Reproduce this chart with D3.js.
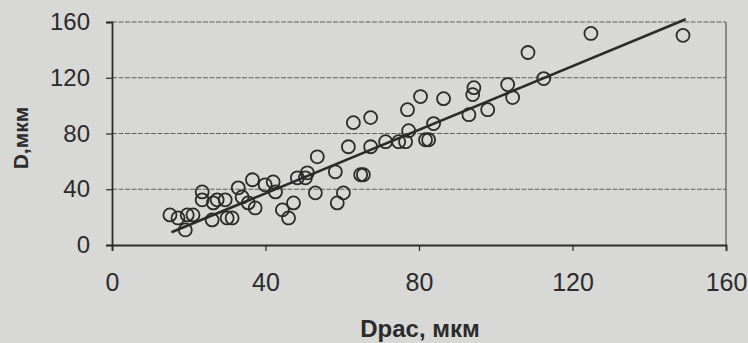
<!DOCTYPE html>
<html>
<head>
<meta charset="utf-8">
<script src="https://cdn.jsdelivr.net/npm/d3@7"></script>
<style>
  html, body { margin: 0; padding: 0; background: #d8d8d6; }
  svg { display: block; font-family: "Liberation Sans", Arial, sans-serif; }
</style>
</head>
<body>
<div id="chart"></div>
<script>
// measured points: Dpac (x) and D (y), µm
const dRas = [15.1, 17.2, 19.1, 19.6, 21.1, 23.5, 23.5, 26.1, 26.4, 27.4, 29.5, 30.0, 31.3, 32.9, 33.9,
  35.5, 36.6, 37.3, 39.9, 42.0, 42.6, 44.4, 46.0, 47.3, 48.3, 50.9, 50.4, 53.0, 53.5, 58.2,
  58.7, 60.3, 61.6, 62.9, 64.8, 65.5, 67.4, 67.4, 71.3, 74.7, 76.5, 77.0, 77.3, 80.4, 81.7,
  82.5, 83.8, 86.4, 93.0, 94.0, 94.3, 97.9, 103.1, 104.4, 108.4, 112.5, 124.8, 148.8];
const dMeas = [21.6, 19.4, 10.8, 21.6, 21.6, 38.1, 32.4, 18.0, 30.2, 32.4, 32.4, 19.4, 19.4, 41.0, 34.5,
  30.2, 46.8, 26.6, 43.2, 45.3, 38.1, 25.2, 19.4, 30.2, 48.2, 51.8, 48.2, 37.4, 63.3, 52.5,
  30.2, 37.4, 70.5, 87.8, 50.4, 50.4, 91.4, 70.5, 74.1, 74.1, 74.1, 97.1, 82.0, 106.5, 75.5,
  75.5, 87.1, 105.0, 93.5, 107.9, 112.9, 97.1, 115.1, 105.8, 138.1, 119.4, 151.8, 150.4];

// linear trend line D = a * Dpac + b, drawn over this Dpac range
const fitSlope = 1.14;
const fitIntercept = -8.5;
const fitRange = [15.5, 149.5];

const xTicks = [0, 40, 80, 120, 160];
const yTicks = [0, 40, 80, 120, 160];

const width = 748, height = 343;
const margin = { top: 22, right: 22, bottom: 98, left: 112 };
const innerW = width - margin.left - margin.right;
const innerH = height - margin.top - margin.bottom;
const ink = '#2b2b2b';

const svg = d3.select('#chart').append('svg')
  .attr('width', width)
  .attr('height', height);

const g = svg.append('g')
  .attr('transform', `translate(${margin.left},${margin.top})`);

const x = d3.scaleLinear().domain([0, 160]).range([0, innerW]);
const y = d3.scaleLinear().domain([0, 160]).range([innerH, 0]);

// horizontal grid lines
g.selectAll('.grid')
  .data(yTicks.filter(d => d > 0))
  .enter().append('line')
  .attr('class', 'grid')
  .attr('x1', 0).attr('x2', innerW)
  .attr('y1', d => y(d)).attr('y2', d => y(d))
  .attr('stroke', '#5e5e5e')
  .attr('stroke-width', 1)
  .attr('stroke-dasharray', '5,1.5');

// right frame
g.append('line')
  .attr('x1', innerW).attr('x2', innerW)
  .attr('y1', 0).attr('y2', innerH)
  .attr('stroke', '#555').attr('stroke-width', 1.2);

// x axis
const xAxis = g.append('g')
  .attr('transform', `translate(0,${innerH})`)
  .call(d3.axisBottom(x).tickValues(xTicks).tickSize(6).tickPadding(22));
xAxis.select('.domain').attr('stroke', ink).attr('stroke-width', 1.8);
xAxis.selectAll('.tick line').attr('stroke', ink).attr('stroke-width', 1.2);
xAxis.selectAll('text')
  .attr('fill', ink)
  .style('font-size', '25px');

// y axis
const yAxis = g.append('g')
  .call(d3.axisLeft(y).tickValues(yTicks).tickSize(6).tickPadding(16));
yAxis.select('.domain').attr('stroke', ink).attr('stroke-width', 1.8);
yAxis.selectAll('.tick line').attr('stroke', ink).attr('stroke-width', 1.2);
yAxis.selectAll('text')
  .attr('fill', ink)
  .style('font-size', '24px');

// trend line
const fitPts = fitRange.map(v => [v, fitSlope * v + fitIntercept]);
g.append('path')
  .datum(fitPts)
  .attr('d', d3.line().x(d => x(d[0])).y(d => y(d[1])))
  .attr('fill', 'none')
  .attr('stroke', ink)
  .attr('stroke-width', 2.6);

// scatter points
g.selectAll('.pt')
  .data(dRas.map((v, i) => [v, dMeas[i]]))
  .enter().append('circle')
  .attr('class', 'pt')
  .attr('cx', d => x(d[0]))
  .attr('cy', d => y(d[1]))
  .attr('r', 6.5)
  .attr('fill', 'none')
  .attr('stroke', ink)
  .attr('stroke-width', 1.8);

// axis titles
svg.append('text')
  .attr('x', 420)
  .attr('y', 337)
  .attr('text-anchor', 'middle')
  .attr('fill', ink)
  .style('font-size', '24px')
  .style('font-weight', 'bold')
  .text('Dpac, мкм');

svg.append('text')
  .attr('transform', 'translate(28,138) rotate(-90)')
  .attr('text-anchor', 'middle')
  .attr('fill', ink)
  .style('font-size', '21px')
  .style('font-weight', 'bold')
  .text('D,мкм');
</script>
</body>
</html>
